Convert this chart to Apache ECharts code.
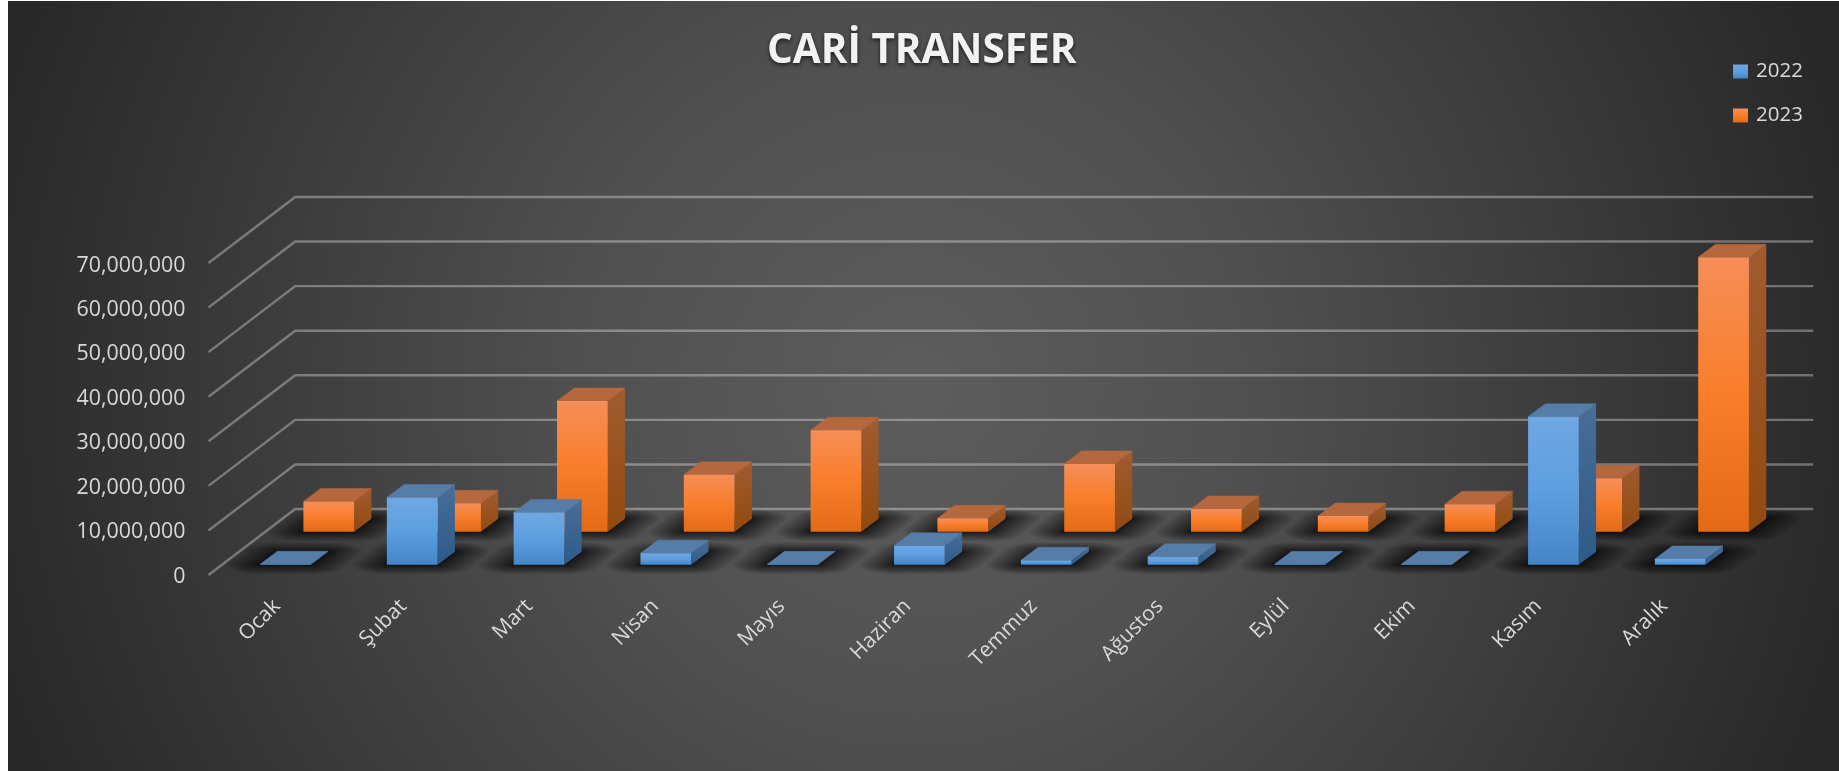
<!DOCTYPE html>
<html lang="tr">
<head>
<meta charset="utf-8">
<style>
html,body{margin:0;padding:0;background:#fff;overflow:hidden}
#bg{position:absolute;left:8px;top:1px;width:1831px;height:770px;
 background:radial-gradient(circle 960px at 907px 384px,#5d5d5d 0%,#505050 35%,#3c3c3c 68%,#282828 100%)}
#chart{position:absolute;left:0;top:0;width:1839px;height:771px}
</style>
<script src="https://cdn.jsdelivr.net/npm/echarts@6/dist/echarts.min.js"></script>
</head>
<body>
<div id="bg"></div>
<div id="chart"></div>
<script>
const categories = ['Ocak','Şubat','Mart','Nisan','Mayıs','Haziran','Temmuz','Ağustos','Eylül','Ekim','Kasım','Aralık'];
const values2022 = [100000,15100000,11700000,2550000,100000,4260000,1000000,1800000,100000,100000,33200000,1270000];
const values2023 = [6800000,6370000,29300000,12800000,22750000,3000000,15200000,5100000,3500000,6150000,12000000,61600000];
const yTicks = [0,10000000,20000000,30000000,40000000,50000000,60000000,70000000];

const FONT = '"Open Sans", sans-serif';
const WALL_DX = 86.7, WALL_DY = 66, WALL_TRIM = 3.6;
const BAR_RATIO = 0.4, BAR_DX = 17.3, BAR_DY = 13;
const ROW_2022 = 10.3, ROW_2023 = 43.3;

const grad = stops => ({type:'linear',x:0,y:0,x2:0,y2:1,colorStops:stops.map(c=>({offset:c[0],color:c[1]}))});
const PAL_BLUE = {
  front: grad([[0,'#70a7e2'],[0.5,'#5c9fe0'],[1,'#4485c6']]),
  side: grad([[0,'#486e98'],[1,'#2e5a88']]),
  top: '#567ca8'
};
const PAL_ORANGE = {
  front: grad([[0,'#f58e58'],[0.5,'#f97e2b'],[1,'#e56a16']]),
  side: grad([[0,'#a05c30'],[1,'#914a0f']]),
  top: '#b5683e'
};

function floorRect(api, depth){
  const c = api.coord([api.value(0),0]);
  const w = api.size([1,0])[0]*BAR_RATIO;
  const dx = depth*WALL_DX/WALL_DY;
  return {left:c[0]-w/2+dx, base:c[1]-depth, w};
}

function barItem(depth, pal){
  return function(params, api){
    const r = floorRect(api, depth);
    const top = api.coord([api.value(0),api.value(1)])[1]-depth;
    const L=r.left, R=r.left+r.w, B=r.base;
    const poly=(pts,fill)=>({type:'polygon',shape:{points:pts},style:{fill,stroke:fill===pal.top?fill:null,lineWidth:0.5}});
    return {type:'group',children:[
      poly([[R,top],[R+BAR_DX,top-BAR_DY],[R+BAR_DX,B-BAR_DY],[R,B]],pal.side),
      poly([[L,top],[R,top],[R+BAR_DX,top-BAR_DY],[L+BAR_DX,top-BAR_DY]],pal.top),
      poly([[L,top],[R,top],[R,B],[L,B]],pal.front)
    ]};
  };
}

function shadowItem(depth){
  return function(params, api){
    const cs = params.coordSys;
    const r = floorRect(api, depth);
    const L=r.left, R=r.left+r.w, B=r.base;
    const corners=[[L,B],[R,B],[R+BAR_DX,B-BAR_DY],[L+BAR_DX,B-BAR_DY]];
    const children=[];
    const LAYERS=24, EX=34, EY=9, STEPS=40;
    for(let k=LAYERS;k>=1;k--){
      const f=Math.pow(k/LAYERS,2), ex=EX*f+1, ey=EY*f+0.5, pts=[];
      for(let s=0;s<STEPS;s++){
        const t=s/STEPS*Math.PI*2, ct=Math.cos(t), st=Math.sin(t);
        const nx=ct/ex, ny=st/ey;
        let best=corners[0], bd=-Infinity;
        corners.forEach(p=>{const d=p[0]*nx+p[1]*ny; if(d>bd){bd=d;best=p;}});
        pts.push([best[0]+ex*ct,best[1]+ey*st]);
      }
      children.push({type:'polygon',shape:{points:pts},style:{fill:'rgba(16,16,16,0.06)'}});
    }
    const y0=cs.y+cs.height, x0=cs.x, x1=cs.x+cs.width;
    return {type:'group',children,clipPath:{type:'polygon',shape:{points:[[x0,y0],[x1,y0],[x1+WALL_DX-WALL_TRIM,y0-WALL_DY],[x0+WALL_DX,y0-WALL_DY]]}}};
  };
}

function gridItem(params, api){
  const cs = params.coordSys;
  const y = api.coord([0,api.value(1)])[1];
  const x0=cs.x, x1=cs.x+cs.width;
  return {type:'polyline',shape:{points:[[x0,y],[x0+WALL_DX,y-WALL_DY],[x1+WALL_DX-WALL_TRIM,y-WALL_DY]]},
    style:{fill:null,stroke:'rgba(255,255,255,0.33)',lineWidth:2.4}};
}

const pairs = arr => arr.map((v,i)=>[i,v]);
const base = {type:'custom',coordinateSystem:'cartesian2d',xAxisIndex:0,yAxisIndex:0,encode:{x:0,y:1},silent:true,animation:false,clip:false};
const hiddenBits = {axisLine:{show:false},axisTick:{show:false},splitLine:{show:false}};

const chart = echarts.init(document.getElementById('chart'),null,{renderer:'canvas'});
chart.setOption({
  backgroundColor:'transparent',
  animation:false,
  title:{text:'CARİ TRANSFER',left:762,top:26,textStyle:{color:'#f2f2f2',fontFamily:FONT,fontWeight:'bold',fontSize:40.5,
    textShadowColor:'rgba(0,0,0,0.65)',textShadowBlur:4,textShadowOffsetY:2}},
  legend:{orient:'vertical',left:1733,top:61,padding:0,itemWidth:15,itemHeight:14,itemGap:23,icon:'rect',selectedMode:false,
    data:['2022','2023'],textStyle:{color:'#d9d9d9',fontFamily:FONT,fontSize:20.5,padding:[0,0,0,3]}},
  grid:[
    {left:208.5,top:263,width:1521.6,height:312},
    {left:203.5,top:265.5,width:1513.2,height:311}
  ],
  xAxis:[
    Object.assign({type:'category',gridIndex:0,data:categories,axisLabel:{show:false}},hiddenBits),
    Object.assign({type:'category',gridIndex:1,data:categories,
      axisLabel:{rotate:45,interval:0,margin:37,padding:[0,-15,0,0],color:'#d9d9d9',fontFamily:FONT,fontSize:21}},hiddenBits)
  ],
  yAxis:[
    Object.assign({type:'value',gridIndex:0,min:0,max:70000000,interval:10000000,axisLabel:{show:false}},hiddenBits),
    Object.assign({type:'value',gridIndex:1,min:0,max:70000000,interval:10000000,
      axisLabel:{margin:18,color:'#d9d9d9',fontFamily:FONT,fontSize:21.4,formatter:v=>v.toLocaleString('en-US')}},hiddenBits)
  ],
  series:[
    Object.assign({},base,{name:'wall',z:1,data:yTicks.map(v=>[0,v]),renderItem:gridItem}),
    Object.assign({},base,{name:'shadow2023',z:2,data:pairs(values2023),renderItem:shadowItem(ROW_2023)}),
    Object.assign({},base,{name:'shadow2022',z:2,data:pairs(values2022),renderItem:shadowItem(ROW_2022)}),
    Object.assign({},base,{name:'2023',z:3,data:pairs(values2023),itemStyle:{color:PAL_ORANGE.front},renderItem:barItem(ROW_2023,PAL_ORANGE)}),
    Object.assign({},base,{name:'2022',z:4,data:pairs(values2022),itemStyle:{color:PAL_BLUE.front},renderItem:barItem(ROW_2022,PAL_BLUE)})
  ]
});
</script>
</body>
</html>
